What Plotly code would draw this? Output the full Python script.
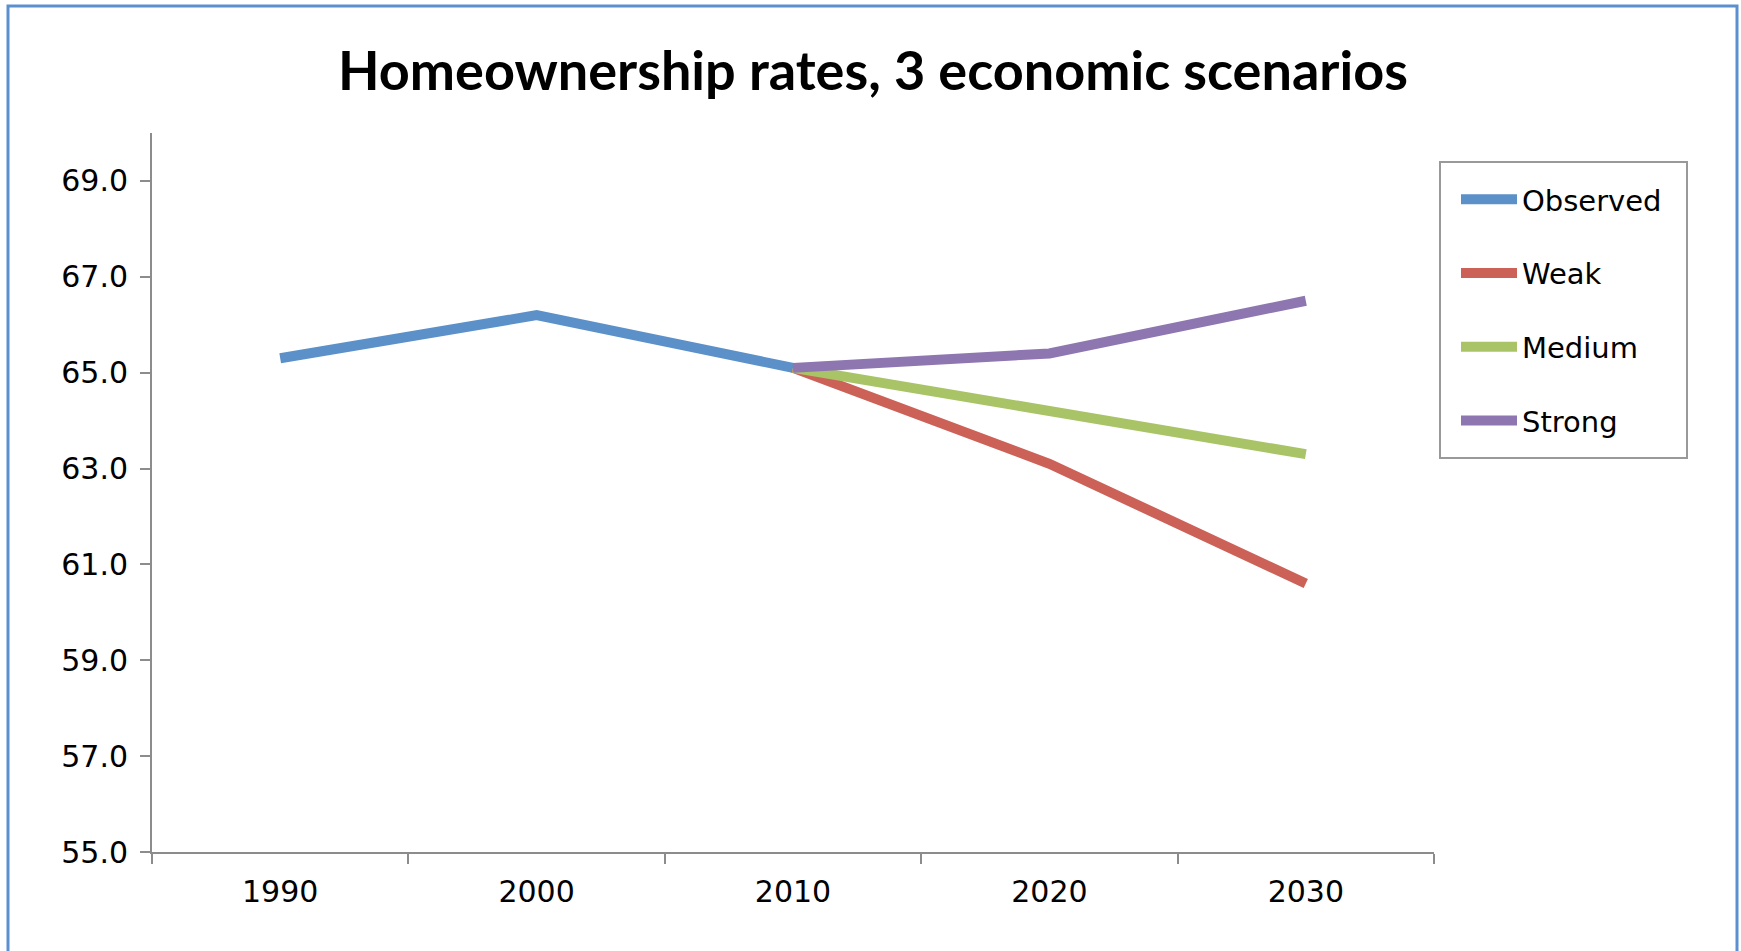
import plotly.graph_objects as go

years = ["1990", "2000", "2010", "2020", "2030"]
observed = [65.3, 66.2, 65.1, None, None]
weak = [None, None, 65.1, 63.1, 60.6]
medium = [None, None, 65.1, 64.2, 63.3]
strong = [None, None, 65.1, 65.4, 66.5]
y_ticks = [55.0, 57.0, 59.0, 61.0, 63.0, 65.0, 67.0, 69.0]

series = [
    ("Observed", observed, "#5B90C9"),
    ("Weak", weak, "#CC6158"),
    ("Medium", medium, "#A8C466"),
    ("Strong", strong, "#8E76B0"),
]

W, H = 1741, 951
L, R, T, B = 152, 1434, 133, 852


def px_x(v):
    return (v - L) / (R - L)


def px_y(v):
    return (B - v) / (B - T)


fig = go.Figure()
for name, vals, color in series:
    fig.add_trace(go.Scatter(
        x=years, y=vals, name=name, mode="lines",
        line=dict(color=color, width=10),
        connectgaps=False, legendgroup=name,
    ))

fig.update_layout(
    width=W, height=H,
    margin=dict(l=L, r=W - R, t=T, b=H - B, autoexpand=False),
    paper_bgcolor="white", plot_bgcolor="white",
    title=dict(
        text="<b>Homeownership rates, 3 economic scenarios</b>",
        x=873 / W, xanchor="center", y=1 - 71 / H, yanchor="middle",
        font=dict(family="Lato", size=54, color="black"),
    ),
    font=dict(family="DejaVu Sans", size=30, color="black"),
    legend=dict(
        x=px_x(1456), xanchor="left",
        y=px_y(174), yanchor="top",
        borderwidth=0,
        bgcolor="rgba(0,0,0,0)",
        tracegroupgap=33,
        itemwidth=56,
        font=dict(family="DejaVu Sans", size=29, color="black"),
    ),
    showlegend=True,
)

fig.update_xaxes(
    type="category", range=[-0.5, 4.5],
    showline=True, linecolor="#8C8C8C", linewidth=2,
    ticks="outside", ticklen=10, tickcolor="#8C8C8C", tickwidth=2,
    tickson="boundaries", showgrid=False, zeroline=False,
    tickfont=dict(family="DejaVu Sans", size=30, color="black"),
    ticklabelstandoff=12,
)
fig.update_yaxes(
    range=[55, 70], tickvals=y_ticks,
    ticktext=[f"{v:.1f}" for v in y_ticks],
    showline=True, linecolor="#8C8C8C", linewidth=2,
    ticks="outside", ticklen=10, tickcolor="#8C8C8C", tickwidth=2,
    showgrid=False, zeroline=False,
    tickfont=dict(family="DejaVu Sans", size=30, color="black"),
    ticklabelstandoff=6,
)

# legend box
fig.add_shape(
    type="rect", xref="paper", yref="paper",
    x0=px_x(1440), x1=px_x(1687), y0=px_y(458), y1=px_y(162),
    line=dict(color="#999999", width=2), fillcolor="rgba(0,0,0,0)",
    layer="below",
)

# outer chart frame
fig.add_shape(
    type="rect", xref="paper", yref="paper",
    x0=px_x(8), x1=px_x(1737), y0=px_y(1000), y1=px_y(6),
    line=dict(color="#5B8FCF", width=3), fillcolor="rgba(0,0,0,0)",
    layer="above",
)

fig.write_html(
    "out.html",
    config={"displayModeBar": False},
    post_script="document.body.style.margin='0';document.body.style.overflow='hidden';",
)
